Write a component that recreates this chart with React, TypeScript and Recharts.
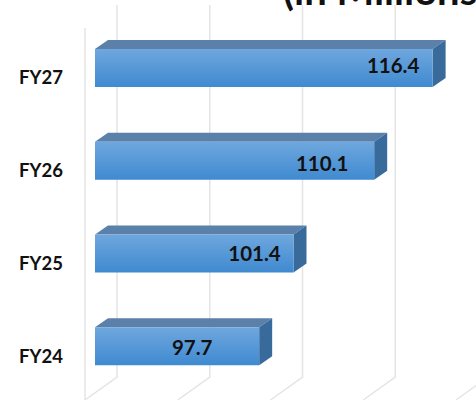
import { BarChart, Bar, XAxis, YAxis, CartesianGrid, LabelList } from "recharts";

const categories = ["FY27", "FY26", "FY25", "FY24"];
const values = [116.4, 110.1, 101.4, 97.7];
const xTicks = [80, 90, 100, 110, 120];

const data = categories.map((name, i) => ({ name, value: values[i] }));

// the labels sit unevenly inside the bars in the original: [inset from bar end, shift from middle]
const labelPlace: Record<string, number[]> = {
  "116.4": [39.5, 1],
  "110.1": [52, 6],
  "101.4": [39, 3],
  "97.7": [67, 5],
};

const FONT = "Lato, 'Open Sans', sans-serif";

function Bar3D(props: any) {
  const { x, y, width, height } = props;
  const dx = 13;
  const dy = 9;
  return (
    <g>
      <polygon
        points={`${x},${y} ${x + dx},${y - dy} ${x + width + dx},${y - dy} ${x + width},${y}`}
        fill="#5b80a9"
      />
      <polygon
        points={`${x + width},${y} ${x + width + dx},${y - dy} ${x + width + dx},${y + height - dy} ${x + width},${y + height}`}
        fill="#386b9b"
      />
      <rect x={x} y={y} width={width} height={height} fill="url(#barFront)" />
    </g>
  );
}

function GridLine(props: any) {
  const { x1, y1, y2 } = props;
  const color = "#e4e4e4";
  const backX = x1 + 22;
  const frontX = x1 - 10;
  const floorY = y2 - 16;
  const frontY = y2 + 7;
  return (
    <g stroke={color} strokeWidth={1.5} fill="none">
      <polyline points={`${backX},${y1 - 17} ${backX},${floorY} ${frontX},${frontY}`} />
      {x1 < 96 && <line x1={frontX} y1={y1 + 6} x2={frontX} y2={frontY} />}
    </g>
  );
}

function CategoryTick(props: any) {
  const { x, y, payload } = props;
  return (
    <text x={x + 6} y={y + 16} textAnchor="end" fontFamily={FONT} fontWeight={700} fontSize={18.5} fill="#111">
      {payload.value}
    </text>
  );
}

function ValueLabel(props: any) {
  const { x, y, width, height, value } = props;
  const [inset, shift] = labelPlace[String(value)];
  return (
    <text
      x={x + width - inset}
      y={y + height / 2 + 4 + shift}
      textAnchor="middle"
      fontFamily={FONT}
      fontWeight={700}
      fontSize={20.5}
      fill="#111"
    >
      {value}
    </text>
  );
}

export default function App() {
  return (
    <div style={{ position: "absolute", left: 0, top: 0, width: 476, height: 402, background: "#fff", overflow: "hidden" }}>
      <BarChart
        width={476}
        height={402}
        data={data}
        layout="vertical"
        margin={{ top: 22, right: 10, bottom: 9, left: 0 }}
      >
        <defs>
          <linearGradient id="barFront" x1="0" y1="0" x2="0" y2="1">
            <stop offset="0%" stopColor="#6fa7de" />
            <stop offset="100%" stopColor="#3f8ad0" />
          </linearGradient>
        </defs>
        <CartesianGrid horizontal={false} vertical={GridLine} />
        <XAxis type="number" domain={[80, 120]} ticks={xTicks} hide />
        <YAxis
          type="category"
          dataKey="name"
          width={95}
          axisLine={false}
          tickLine={false}
          tickMargin={32}
          tick={CategoryTick}
        />
        <Bar dataKey="value" barSize={38} shape={Bar3D} isAnimationActive={false}>
          <LabelList dataKey="value" content={ValueLabel} />
        </Bar>
        <text x={283} y={5} fontFamily={FONT} fontWeight={700} fontSize={40} fill="#111">
          (in Millions)
        </text>
      </BarChart>
    </div>
  );
}
